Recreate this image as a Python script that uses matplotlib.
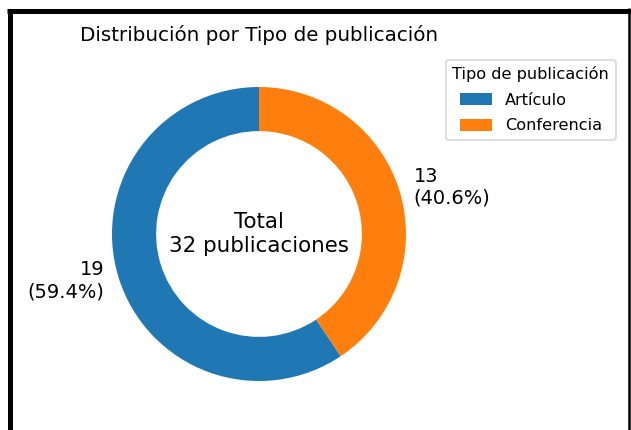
import matplotlib
matplotlib.use("Agg")
import matplotlib.pyplot as plt
from matplotlib.lines import Line2D

tipos = ["Artículo", "Conferencia"]
conteos = [19, 13]
colores = ["#1f77b4", "#ff7f0e"]

total = sum(conteos)
etiquetas = ["%d\n(%.1f%%)" % (c, 100 * c / total) for c in conteos]

W, H, DPI = 631, 430, 116
fig = plt.figure(figsize=(W / DPI, H / DPI), dpi=DPI)

# axes placed so the ring sits where it does in the screenshot
cx, cy, r = 259, 234, 147
side = 2.5 * r
ax = fig.add_axes([(cx - side / 2) / W, (H - cy - side / 2) / H, side / W, side / H])

wedges, texts = ax.pie(conteos, labels=etiquetas, colors=colores, startangle=90,
                       labeldistance=1.1, wedgeprops=dict(width=0.3),
                       textprops=dict(fontsize=12))
ax.text(0, 0, "Total\n%d publicaciones" % total, ha="center", va="center", fontsize=13.3)
ax.set_title("Distribución por Tipo de publicación", fontsize=12.3)
ax.set_aspect("equal")

fig.legend(wedges, tipos, title="Tipo de publicación", loc="upper left",
           bbox_to_anchor=(446 / W, 1 - 60 / H), borderaxespad=0, fontsize=10,
           title_fontsize=10, labelspacing=0.65, handleheight=0.8)

# black frame of the screenshot
def px(x, y):
    return x / W, 1 - y / H

lw_thick = 5 * 72 / DPI
lw_thin = 2.5 * 72 / DPI
for (x0, y0), (x1, y1), lw, col in [
    ((9.5, 10.5), (9.5, 430), lw_thick, "black"),
    ((7, 10.5), (631, 10.5), lw_thick, "black"),
    ((629, 8), (629, 430), lw_thin, "black"),
    ((12, 429.5), (628, 429.5), 1 * 72 / DPI, "#d0d0d0"),
]:
    a, b = px(x0, y0)
    c, d = px(x1, y1)
    fig.add_artist(Line2D([a, c], [b, d], transform=fig.transFigure, lw=lw, color=col,
                          solid_capstyle="butt"))

fig.savefig("out.png", dpi=DPI)
